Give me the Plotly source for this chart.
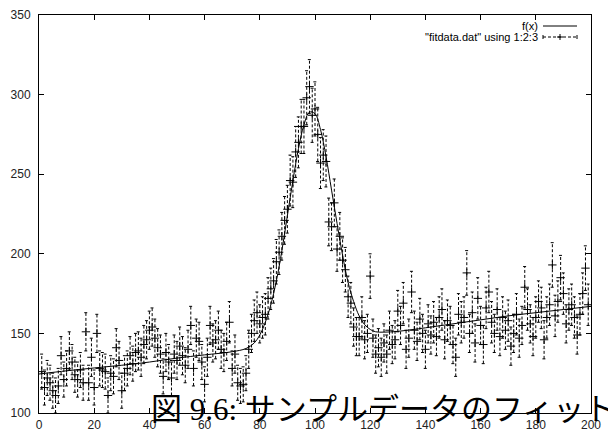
import plotly.graph_objects as go

# ---- data ----
x_data = list(range(1, 200))
y_data = [
    126, 116, 122, 119, 114, 111, 117, 136, 121, 128,
    139, 132, 124, 121, 127, 119, 151, 119, 135, 116,
    150, 128, 127, 126, 111, 125, 123, 141, 133, 114,
    125, 128, 136, 131, 138, 139, 135, 143, 146, 152,
    154, 147, 141, 137, 123, 138, 132, 122, 137, 133,
    142, 136, 130, 140, 155, 128, 147, 145, 132, 118,
    135, 155, 144, 146, 152, 140, 138, 145, 157, 128,
    137, 119, 117, 118, 125, 140, 150, 158, 163, 156,
    160, 162, 172, 178, 183, 195, 201, 211, 221, 228,
    246, 245, 264, 270, 280, 280, 298, 305, 287, 291,
    275, 257, 262, 258, 220, 217, 232, 203, 211, 196,
    190, 173, 169, 154, 148, 148, 160, 146, 150, 186,
    147, 137, 141, 135, 144, 137, 152, 143, 146, 164,
    155, 169, 140, 147, 176, 152, 145, 159, 150, 140,
    156, 149, 157, 148, 160, 165, 146, 158, 155, 143,
    135, 162, 157, 160, 188, 150, 163, 144, 172, 155,
    143, 166, 176, 157, 150, 165, 148, 160, 152, 158,
    142, 150, 162, 147, 155, 179, 165, 156, 148, 160,
    170, 166, 146, 160, 168, 193, 161, 170, 185, 175,
    156, 165, 168, 160, 149, 162, 175, 191, 168,
]
err_data = [
    11, 11, 11, 11, 11, 11, 11, 12, 11, 11,
    12, 11, 11, 11, 11, 11, 12, 11, 12, 11,
    12, 11, 11, 11, 11, 11, 11, 12, 12, 11,
    11, 11, 12, 11, 12, 12, 12, 12, 12, 12,
    12, 12, 12, 12, 11, 12, 11, 11, 12, 12,
    12, 12, 11, 12, 12, 11, 12, 12, 11, 11,
    12, 12, 12, 12, 12, 12, 12, 12, 13, 11,
    12, 11, 11, 11, 11, 12, 12, 13, 13, 12,
    13, 13, 13, 13, 14, 14, 14, 15, 15, 15,
    16, 16, 16, 16, 17, 17, 17, 17, 17, 17,
    17, 16, 16, 16, 15, 15, 15, 14, 15, 14,
    14, 13, 13, 12, 12, 12, 13, 12, 12, 14,
    12, 12, 12, 12, 12, 12, 12, 12, 12, 13,
    12, 13, 12, 12, 13, 12, 12, 13, 12, 12,
    12, 12, 13, 12, 13, 13, 12, 13, 12, 12,
    12, 13, 13, 13, 14, 12, 13, 12, 13, 12,
    12, 13, 13, 13, 12, 13, 12, 13, 12, 13,
    12, 12, 13, 12, 12, 13, 13, 12, 12, 13,
    13, 13, 12, 13, 13, 14, 13, 13, 14, 13,
    12, 13, 13, 13, 12, 13, 13, 14, 13,
]

# fitted curve f(x)
fit_x = [0, 10, 20, 30, 40, 50, 60, 70, 75, 78, 80, 82, 84, 86, 88, 90, 92, 94, 96, 98,
         100, 102, 104, 106, 108, 110, 112, 114, 116, 118, 120, 122, 125, 130, 140, 150,
         160, 170, 180, 190, 200]
fit_y = [124.5, 126.5, 128.3, 130, 132, 134.5, 136.5, 138.5, 140.5, 144, 149, 157, 168,
         183, 202, 224, 246, 266, 281, 289, 288, 278, 261, 240, 219, 199, 182, 170, 161,
         155.5, 152.5, 151, 150.8, 151.3, 153.5, 156, 158.5, 161, 163, 165, 167]

x_ticks = [0, 20, 40, 60, 80, 100, 120, 140, 160, 180, 200]
y_ticks = [100, 150, 200, 250, 300, 350]

caption = "図 9.6: サンプルデータのフィット"
legend_fit = "f(x)"
legend_data = '"fitdata.dat" using 1:2:3'

# ---- build error-bar segments from the data ----
cap = 0.6
ebx, eby = [], []
for xv, yv, ev in zip(x_data, y_data, err_data):
    lo, hi = yv - ev, yv + ev
    ebx += [xv, xv, None, xv - cap, xv + cap, None, xv - cap, xv + cap, None]
    eby += [lo, hi, None, lo, lo, None, hi, hi, None]

fig = go.Figure()
fig.add_trace(go.Scatter(x=ebx, y=eby, mode="lines",
                         line=dict(color="black", width=1, dash="3px,2px"),
                         hoverinfo="skip", showlegend=False))
fig.add_trace(go.Scatter(x=x_data, y=y_data, mode="markers",
                         marker=dict(symbol="cross-thin", size=6,
                                     line=dict(color="black", width=1)),
                         showlegend=False))
fig.add_trace(go.Scatter(x=fit_x, y=fit_y, mode="lines", line_shape="spline",
                         line=dict(color="black", width=1), showlegend=False))

# the page body adds an 8px offset; margins compensate so the plot lands
# at screen x 39..591, y 15..413
W, H = 616, 430
L, R, T, B = 31, 33, 7, 25
pw, ph = W - L - R, H - T - B
SX0, SY1 = 39, 413  # screen position of plot-area left / bottom


def px(xs):
    return (xs - SX0) / pw


def py(ys):
    return (SY1 - ys) / ph


axis_common = dict(showgrid=False, zeroline=False, showline=True, linecolor="black",
                   linewidth=1, mirror="ticks", ticks="inside", ticklen=5,
                   tickwidth=1, tickcolor="black",
                   tickfont=dict(family="Liberation Sans, Arial, sans-serif",
                                 size=12, color="#222"))

fig.update_layout(
    width=W, height=H,
    margin=dict(l=L, r=R, t=T, b=B, autoexpand=False),
    plot_bgcolor="white", paper_bgcolor="white",
    xaxis=dict(range=[0, 200], tickvals=x_ticks, automargin=False,
               ticklabelstandoff=1, **axis_common),
    yaxis=dict(range=[100, 350], tickvals=y_ticks, automargin=False,
               ticklabelstandoff=5, **axis_common),
    showlegend=False,
)

leg_font = dict(family="Liberation Sans, Arial, sans-serif", size=11, color="black")
fig.add_annotation(x=px(540), y=py(26), xref="paper", yref="paper", text=legend_fit,
                   showarrow=False, xanchor="right", yanchor="middle", font=leg_font)
fig.add_annotation(x=px(540), y=py(37), xref="paper", yref="paper", text=legend_data,
                   showarrow=False, xanchor="right", yanchor="middle", font=leg_font)

# key samples
fig.add_shape(type="line", xref="paper", yref="paper", x0=px(543), x1=px(577),
              y0=py(26), y1=py(26), line=dict(color="black", width=1))
fig.add_shape(type="line", xref="paper", yref="paper", x0=px(543), x1=px(577),
              y0=py(37), y1=py(37), line=dict(color="black", width=1, dash="3px,2px"))
for xx in (543, 577):
    fig.add_shape(type="line", xref="paper", yref="paper", x0=px(xx), x1=px(xx),
                  y0=py(35), y1=py(39), line=dict(color="black", width=1))
fig.add_shape(type="line", xref="paper", yref="paper", x0=px(557), x1=px(563),
              y0=py(37), y1=py(37), line=dict(color="black", width=1))
fig.add_shape(type="line", xref="paper", yref="paper", x0=px(560), x1=px(560),
              y0=py(34), y1=py(40), line=dict(color="black", width=1))

fig.add_annotation(x=px(149), y=py(409), xref="paper", yref="paper", text=caption,
                   showarrow=False, xanchor="left", yanchor="middle",
                   font=dict(family="Liberation Serif, DejaVu Serif, Noto Sans CJK JP",
                             size=31, color="black"))

fig.write_html("out.html")
